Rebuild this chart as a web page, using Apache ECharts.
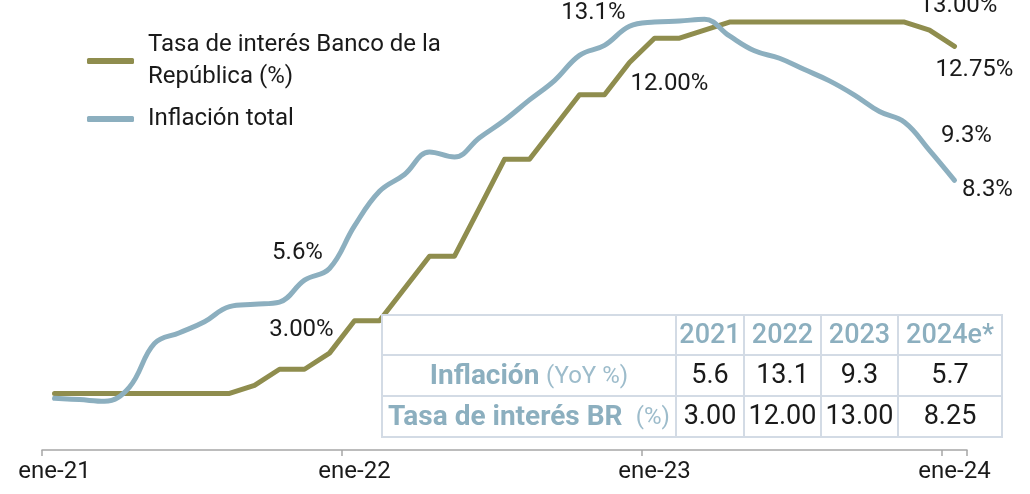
<!DOCTYPE html>
<html>
<head>
<meta charset="utf-8">
<script src="https://cdn.jsdelivr.net/npm/echarts@6/dist/echarts.min.js"></script>
<style>
  html, body { margin: 0; padding: 0; background: #fff; }
  #chartDom { width: 1030px; height: 494px; }
</style>
</head>
<body>
<div id="chartDom"></div>
<script>
// datos mensuales ene-21 .. ene-24
const categories = [
  'ene-21', 'feb-21', 'mar-21', 'abr-21', 'may-21', 'jun-21', 'jul-21', 'ago-21', 'sep-21', 'oct-21', 'nov-21', 'dic-21',
  'ene-22', 'feb-22', 'mar-22', 'abr-22', 'may-22', 'jun-22', 'jul-22', 'ago-22', 'sep-22', 'oct-22', 'nov-22', 'dic-22',
  'ene-23', 'feb-23', 'mar-23', 'abr-23', 'may-23', 'jun-23', 'jul-23', 'ago-23', 'sep-23', 'oct-23', 'nov-23', 'dic-23',
  'ene-24',
]
const tasaBR = [
  1.75, 1.75, 1.75, 1.75, 1.75, 1.75, 1.75, 1.75, 2.00, 2.50, 2.50, 3.00,
  4.00, 4.00, 5.00, 6.00, 6.00, 7.50, 9.00, 9.00, 10.00, 11.00, 11.00, 12.00,
  12.75, 12.75, 13.00, 13.25, 13.25, 13.25, 13.25, 13.25, 13.25, 13.25, 13.25, 13.00,
  12.50,
]
const inflacion = [
  1.60, 1.56, 1.51, 1.95, 3.30, 3.63, 3.97, 4.44, 4.51, 4.58, 5.26, 5.62,
  6.94, 8.01, 8.53, 9.23, 9.07, 9.67, 10.21, 10.84, 11.44, 12.22, 12.53, 13.12,
  13.25, 13.28, 13.34, 12.82, 12.36, 12.13, 11.78, 11.43, 10.99, 10.48, 10.15, 9.28,
  8.35,
]

// etiquetas sobre las líneas: [indice, texto]
const tasaLabels = [[11, '3.00%'], [23, '12.00%'], [35, '13.00%'], [36, '12.75%']]
const inflLabels = [[11, '5.6%'], [23, '13.1%'], [35, '9.3%'], [36, '8.3%']]
const tasaOffsets = [[-28, -23], [40, 22], [29, -24], [20, 24]]
const inflOffsets = [[-32, -15], [-36, -13], [37, -14], [33, 10]]

// tabla resumen
const tableYears = ['2021', '2022', '2023', '2024e*']
const tableInflacion = ['5.6', '13.1', '9.3', '5.7']
const tableTasa = ['3.00', '12.00', '13.00', '8.25']

const GREEN = '#8f8d4e'
const BLUE = '#8cafbf'
const TEXT = '#1a1a1a'
const FONT = 'Roboto, "Noto Sans", sans-serif'

function marks(labels, offsets, values) {
  return labels.map(([i, text], k) => ({
    coord: [categories[i], values[i]],
    value: text,
    label: { offset: offsets[k] },
  }))
}

function buildTable() {
  const colX = [382, 676, 744, 821, 898, 1002]
  const rowY = [315, 355, 396, 437]
  const border = '#d3dbe5'
  const els = []
  for (let r = 0; r < 3; r++) {
    for (let c = 0; c < 5; c++) {
      els.push({
        type: 'rect',
        shape: { x: colX[c], y: rowY[r], width: colX[c + 1] - colX[c], height: rowY[r + 1] - rowY[r] },
        style: { fill: '#fff', stroke: border, lineWidth: 2 },
        z: 100,
      })
    }
  }
  const cell = (c, r, text, extra) => ({
    type: 'text',
    x: (colX[c] + colX[c + 1]) / 2,
    y: (rowY[r] + rowY[r + 1]) / 2 + 1,
    z: 101,
    style: Object.assign({
      text: text,
      align: 'center',
      verticalAlign: 'middle',
      font: '27px ' + FONT,
      fill: TEXT,
    }, extra || {}),
  })
  tableYears.forEach((y, i) => els.push(cell(i + 1, 0, y, { fill: BLUE, font: '500 27px ' + FONT })))
  tableInflacion.forEach((v, i) => els.push(cell(i + 1, 1, v)))
  tableTasa.forEach((v, i) => els.push(cell(i + 1, 2, v)))
  const rich = {
    b: { fontFamily: FONT, fontSize: 28, fontWeight: 'bold', fill: BLUE, color: BLUE },
    r: { fontFamily: FONT, fontSize: 24, fill: '#9dbccb', color: '#9dbccb' },
  }
  els.push(cell(0, 1, '{b|Inflación} {r|(YoY %)}', { rich: rich }))
  els.push(cell(0, 2, '{b|Tasa de interés BR}  {r|(%)}', { rich: rich }))
  return els
}

const chart = echarts.init(document.getElementById('chartDom'))
chart.setOption({
  animation: false,
  textStyle: { fontFamily: FONT },
  grid: { left: 42, right: 63, top: 14, bottom: 44 },
  legend: {
    orient: 'vertical',
    left: 82,
    top: 24,
    itemWidth: 47,
    itemHeight: 6,
    itemGap: 10,
    icon: 'roundRect',
    textStyle: { fontSize: 24, color: TEXT, lineHeight: 32, padding: [0, 0, 0, 9] },
    data: ['Tasa de interés Banco de la\nRepública (%)', 'Inflación total'],
  },
  xAxis: {
    type: 'category',
    data: categories,
    boundaryGap: true,
    axisLine: { lineStyle: { color: '#a6a6a6', width: 1.5 } },
    axisTick: {
      show: true,
      interval: (i) => i % 12 === 0 && i < categories.length,
      length: 6,
      lineStyle: { color: '#a6a6a6', width: 1.5 },
    },
    axisLabel: { interval: 11, fontSize: 24, color: TEXT, margin: 10 },
  },
  yAxis: { type: 'value', min: 0, max: 13.5, show: false },
  series: [
    {
      name: 'Tasa de interés Banco de la\nRepública (%)',
      type: 'line',
      data: tasaBR,
      showSymbol: false,
      color: GREEN,
      lineStyle: { width: 5, cap: 'round', join: 'round' },
      markPoint: {
        symbol: 'circle',
        symbolSize: 0,
        label: { show: true, formatter: '{c}', fontSize: 24, color: TEXT },
        data: marks(tasaLabels, tasaOffsets, tasaBR),
      },
    },
    {
      name: 'Inflación total',
      type: 'line',
      data: inflacion,
      showSymbol: false,
      smooth: 0.4,
      color: BLUE,
      lineStyle: { width: 5, cap: 'round', join: 'round' },
      markPoint: {
        symbol: 'circle',
        symbolSize: 0,
        label: { show: true, formatter: '{c}', fontSize: 24, color: TEXT },
        data: marks(inflLabels, inflOffsets, inflacion),
      },
    },
  ],
  graphic: buildTable(),
})
</script>
</body>
</html>
